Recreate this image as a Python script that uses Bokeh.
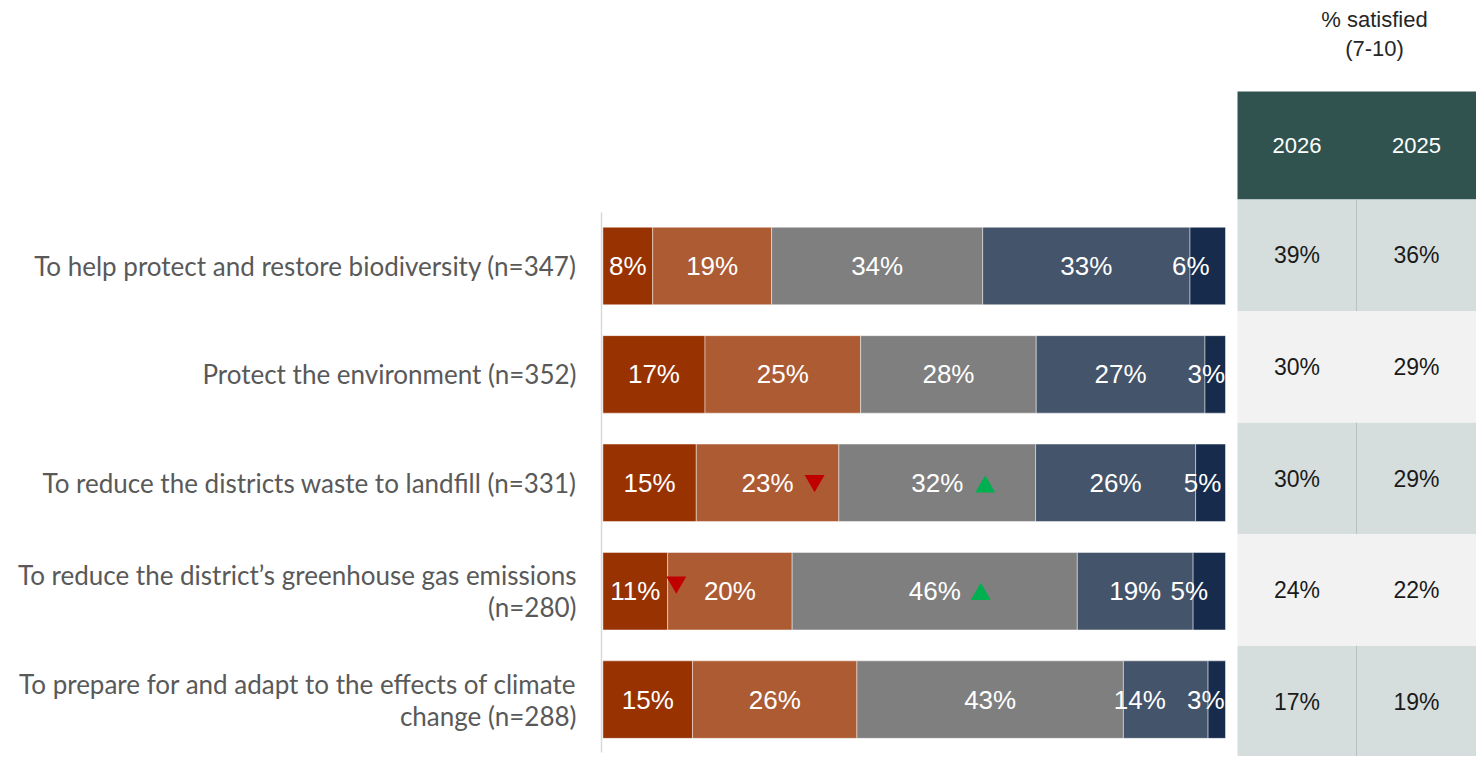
from bokeh.plotting import figure
from bokeh.models import Range1d
from bokeh.core.properties import value
from bokeh.embed import file_html
from bokeh.resources import INLINE

# ---------------- data ----------------
categories = [
    "To help protect and restore biodiversity (n=347)",
    "Protect the environment (n=352)",
    "To reduce the districts waste to landfill (n=331)",
    "To reduce the district\u2019s greenhouse gas emissions\n(n=280)",
    "To prepare for and adapt to the effects of climate\nchange (n=288)",
]
segments = ["0-2", "3-4", "5-6", "7-8", "9-10"]
seg_0_2 = [8.0, 16.4, 15.0, 10.4, 14.4]
seg_3_4 = [19.1, 25.0, 22.9, 20.0, 26.4]
seg_5_6 = [33.9, 28.2, 31.6, 45.8, 42.8]
seg_7_8 = [33.3, 27.1, 25.7, 18.6, 13.6]
seg_9_10 = [5.7, 3.3, 4.8, 5.2, 2.8]
label_0_2 = [8, 17, 15, 11, 15]
label_3_4 = [19, 25, 23, 20, 26]
label_5_6 = [34, 28, 32, 46, 43]
label_7_8 = [33, 27, 26, 19, 14]
label_9_10 = [6, 3, 5, 5, 3]
sat_title = "% satisfied\n(7-10)"
sat_years = ["2026", "2025"]
sat_2026 = [39, 30, 30, 24, 17]
sat_2025 = [36, 29, 29, 22, 19]
sig_row = [2, 2, 3, 3]
sig_seg = [1, 2, 0, 2]
sig_dir = ["down", "up", "down", "up"]

# ---------------- layout / style ----------------
W, H = 1476, 756
PAGE = 0
BAR_L, BAR_R = 602.4, 1225.0
ROW0_Y, ROW_PITCH = 265.5, 108.4
BAR_H_PX = 77.5
seg_colors = ["#983200", "#AD5B33", "#7F7F7F", "#44546A", "#172C4C"]
label_nudge_px = {(0, 4): -17, (1, 4): -9, (2, 4): -8, (3, 4): -20, (4, 3): -26, (4, 4): -11}
sig_dx_px = [47, 48, 41, 46]
sig_dy_px = [-2, 4, -9, 3]
TBL_L, TBL_MID, TBL_R = 1237, 1356, 1476
TBL_HEAD_T, TBL_HEAD_B = 91, 199
TBL_ROW_H = 111.6
row_fills = ["#D5DEDD", "#F2F2F2"]

kx = (BAR_R - BAR_L) / 100.0


def px2x(px):
    return (px - BAR_L) / kx


def py2y(py):
    return (py - ROW0_Y) / ROW_PITCH


p = figure(width=W, height=H, output_backend="svg", toolbar_location=None,
           x_range=Range1d(px2x(PAGE), px2x(PAGE + W)),
           y_range=Range1d(py2y(PAGE + H), py2y(PAGE)),
           min_border=0, outline_line_color=None, background_fill_color="white",
           border_fill_color="white")
p.xaxis.visible = False
p.yaxis.visible = False
p.grid.visible = False

rows = list(range(len(categories)))
series = [seg_0_2, seg_3_4, seg_5_6, seg_7_8, seg_9_10]
labels = [label_0_2, label_3_4, label_5_6, label_7_8, label_9_10]

# axis line
p.segment(x0=[px2x(601)], x1=[px2x(601)], y0=[py2y(212)], y1=[py2y(752)],
          line_color="#D9D9D9", line_width=1.5)

# stacked bars
lefts = [0.0] * len(rows)
label_x, label_y, label_t = [], [], []
centers = {}
for j, vals in enumerate(series):
    rights = [l + v for l, v in zip(lefts, vals)]
    p.hbar(y=rows, left=lefts, right=rights, height=BAR_H_PX / ROW_PITCH,
           fill_color=seg_colors[j], line_color="white", line_alpha=0.45, line_width=1)
    for i in rows:
        cx = (lefts[i] + rights[i]) / 2 + label_nudge_px.get((i, j), 0) / kx
        centers[(i, j)] = cx
        label_x.append(cx)
        label_y.append(i)
        label_t.append(f"{labels[j][i]}%")
    lefts = rights

p.text(x=label_x, y=label_y, text=label_t, text_color="white",
       text_font=value("Liberation Sans"), text_font_size="26px",
       text_align="center", text_baseline="middle")

# significance markers
for k in range(len(sig_row)):
    i, j = sig_row[k], sig_seg[k]
    mx = centers[(i, j)] + sig_dx_px[k] / kx
    my = i + sig_dy_px[k] / ROW_PITCH
    if sig_dir[k] == "down":
        p.scatter(x=[mx], y=[my], marker="inverted_triangle", size=20,
                  fill_color="#C00000", line_color=None)
    else:
        p.scatter(x=[mx], y=[my], marker="triangle", size=20,
                  fill_color="#00B050", line_color=None)

# category labels
cx, cy, ct = [], [], []
LINE_H = 32
for i, cat in enumerate(categories):
    lines = cat.split("\n")
    n = len(lines)
    for m, ln in enumerate(lines):
        off = (m - (n - 1) / 2) * LINE_H
        cx.append(px2x(576))
        cy.append(i + off / ROW_PITCH)
        ct.append(ln)
p.text(x=cx, y=cy, text=ct, text_color="#595959", text_font=value("Lato"),
       text_font_size="26px", text_align="right", text_baseline="middle")

# table header
p.quad(left=[px2x(TBL_L)], right=[px2x(TBL_R)], top=[py2y(TBL_HEAD_T)],
       bottom=[py2y(TBL_HEAD_B)], fill_color="#305350", line_color=None)
col_cx = [px2x((TBL_L + TBL_MID) / 2), px2x((TBL_MID + TBL_R) / 2)]
head_y = py2y((TBL_HEAD_T + TBL_HEAD_B) / 2)
p.text(x=col_cx, y=[head_y, head_y], text=sat_years, text_color="white",
       text_font=value("Liberation Sans"), text_font_size="22px",
       text_align="center", text_baseline="middle")

# table title
t_lines = sat_title.split("\n")
p.text(x=[px2x(1374)] * len(t_lines), y=[py2y(18.5), py2y(47.5)], text=t_lines,
       text_color="#262626", text_font=value("Liberation Sans"), text_font_size="22px",
       text_align="center", text_baseline="middle")

# table rows
tx, ty, tt = [], [], []
for i in rows:
    top = TBL_HEAD_B + i * TBL_ROW_H
    bot = top + TBL_ROW_H
    p.quad(left=[px2x(TBL_L)], right=[px2x(TBL_R)], top=[py2y(top)], bottom=[py2y(bot)],
           fill_color=row_fills[i % 2], line_color=None)
    if i % 2 == 0:
        p.segment(x0=[px2x(TBL_MID)], x1=[px2x(TBL_MID)], y0=[py2y(top)], y1=[py2y(bot)],
                  line_color="#B7C2C1", line_width=1)
    yc = py2y((top + bot) / 2)
    tx += col_cx
    ty += [yc, yc]
    tt += [f"{sat_2026[i]}%", f"{sat_2025[i]}%"]
p.text(x=tx, y=ty, text=tt, text_color="#1A1A1A", text_font=value("Liberation Sans"),
       text_font_size="23px", text_align="center", text_baseline="middle")

open("out.html", "w").write(file_html(p, INLINE))
